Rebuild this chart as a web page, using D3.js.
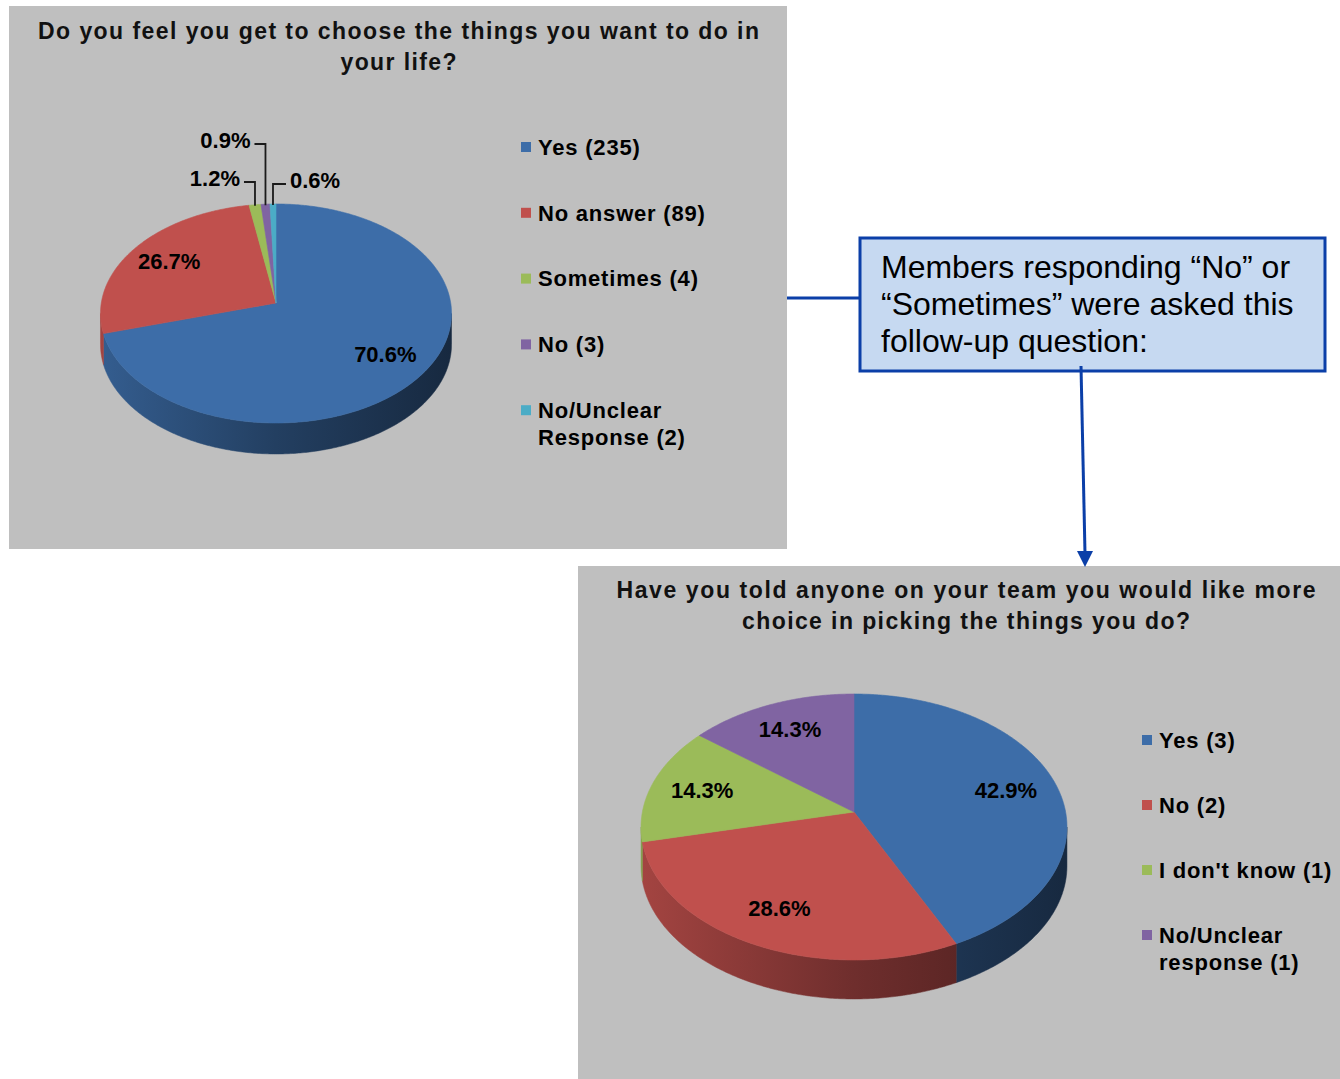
<!DOCTYPE html>
<html><head><meta charset="utf-8">
<script src="https://cdn.jsdelivr.net/npm/d3@7"></script>
<style>body{margin:0;background:#fff;font-family:"Liberation Sans",Arial,sans-serif;}</style>
</head><body>
<script>
// ---------- data ----------
const pie1Title = ["Do you feel you get to choose the things you want to do in", "your life?"];
const pie1Categories = ["Yes", "No answer", "Sometimes", "No", "No/Unclear Response"];
const pie1Values = [235, 89, 4, 3, 2];
const pie2Title = ["Have you told anyone on your team  you would like more", "choice in picking the things you do?"];
const pie2Categories = ["Yes", "No", "I don't know", "No/Unclear response"];
const pie2Values = [3, 2, 1, 1];
const calloutLines = ["Members responding \u201CNo\u201D or", "\u201CSometimes\u201D were asked this", "follow-up question:"];
const pie1Colors = ["#3D6DA8", "#C0504D", "#9BBB59", "#8064A2", "#4BACC6"];
const pie2Colors = ["#3D6DA8", "#C0504D", "#9BBB59", "#8064A2"];

// ---------- layout ----------
const W = 1340, H = 1079;
const svg = d3.select("body").append("svg").attr("width", W).attr("height", H);
const defs = svg.append("defs");
const panelFill = "#BFBFBF";
const blue = "#0B3FA8";
const fmt = d3.format(".1%");

function scaleColor(c, f) {
  const r = d3.rgb(c);
  return d3.rgb(r.r * f, r.g * f, r.b * f).formatHex();
}

function makeProj(cfg) {
  return (theta, f = 1, dy = 0) => {
    const s = Math.sin(theta), c = Math.cos(theta);
    const den = 1 + cfg.k * f * c;
    return [cfg.cx + cfg.Rx * f * s / den, cfg.cy - cfg.Ry * f * c / den + dy];
  };
}

function drawPie(cfg, vals, colors, leaders) {
  const g = svg.append("g");
  const proj = makeProj(cfg);
  const arcs = d3.pie().sort(null).value(d => d)(vals);
  const total = d3.sum(vals);
  const line = d3.line();
  // gradients for the side walls
  colors.forEach((c, i) => {
    const gr = defs.append("linearGradient").attr("id", `g${cfg.id}_${i}`)
      .attr("gradientUnits", "userSpaceOnUse")
      .attr("x1", cfg.cx - cfg.Rx).attr("x2", cfg.cx + cfg.Rx).attr("y1", 0).attr("y2", 0);
    gr.append("stop").attr("offset", 0).attr("stop-color", scaleColor(c, 0.85));
    gr.append("stop").attr("offset", 0.5).attr("stop-color", scaleColor(c, 0.58));
    gr.append("stop").attr("offset", 1).attr("stop-color", scaleColor(c, 0.38));
  });
  const fA = Math.PI / 2 + Math.asin(cfg.k), fB = 3 * Math.PI / 2 - Math.asin(cfg.k);
  arcs.forEach((a, i) => {
    const a0 = Math.max(a.startAngle, fA), a1 = Math.min(a.endAngle, fB);
    if (a1 <= a0) return;
    const n = Math.max(2, Math.ceil((a1 - a0) / 0.01));
    const top = d3.range(n + 1).map(j => proj(a0 + (a1 - a0) * j / n));
    const bot = top.slice().reverse().map(p => [p[0], p[1] + cfg.depth]);
    g.append("path").attr("d", line(top.concat(bot)) + "Z")
      .attr("fill", `url(#g${cfg.id}_${i})`).attr("stroke", `url(#g${cfg.id}_${i})`).attr("stroke-width", 0.5);
  });
  arcs.forEach((a, i) => {
    const n = Math.max(2, Math.ceil((a.endAngle - a.startAngle) / 0.01));
    const pts = [[cfg.cx, cfg.cy]].concat(d3.range(n + 1).map(j => proj(a.startAngle + (a.endAngle - a.startAngle) * j / n)));
    g.append("path").attr("d", line(pts) + "Z").attr("fill", colors[i])
      .attr("stroke", colors[i]).attr("stroke-width", 0.6);
  });
  // labels
  arcs.forEach((a, i) => {
    const mid = (a.startAngle + a.endAngle) / 2;
    const txt = fmt(a.value / total);
    const L = leaders && leaders[i];
    if (L) {
      const p = proj(mid, 1, 1);
      const ex = p[0] + L.dx;
      g.append("path").attr("d", line([p, [p[0], L.elbowY], [ex, L.elbowY]]))
        .attr("fill", "none").attr("stroke", "#1a1a1a").attr("stroke-width", 1.8);
      g.append("text").attr("x", ex + (L.dx < 0 ? -4 : 4)).attr("y", L.elbowY - 4).attr("dy", "0.35em")
        .attr("text-anchor", L.dx < 0 ? "end" : "start")
        .attr("font-size", 22).attr("font-weight", "bold").attr("fill", "#000").text(txt);
    } else {
      const p = proj(mid, 0.75);
      g.append("text").attr("x", p[0]).attr("y", p[1]).attr("dy", "0.35em")
        .attr("text-anchor", "middle")
        .attr("font-size", 22).attr("font-weight", "bold").attr("fill", "#000").text(txt);
    }
  });
}

function drawTitle(lines, cx, y0, widths) {
  lines.forEach((t, i) => {
    svg.append("text").attr("x", cx).attr("y", y0 + i * 31).attr("text-anchor", "middle")
      .attr("font-size", 23).attr("font-weight", "bold").attr("fill", "#111")
      .attr("textLength", widths[i]).attr("lengthAdjust", "spacing").text(t);
  });
}

function drawLegend(cats, vals, colors, x, y0, step) {
  const g = svg.append("g");
  cats.forEach((c, i) => {
    const y = y0 + i * step;
    g.append("rect").attr("x", x).attr("y", y - 5).attr("width", 10).attr("height", 10).attr("fill", colors[i]);
    const label = `${c} (${vals[i]})`;
    const words = label.split(" ");
    const lines = [];
    let cur = "";
    const probe = g.append("text").attr("font-size", 22).attr("font-weight", "bold").attr("letter-spacing", "0.8px");
    words.forEach(w => {
      const test = cur ? cur + " " + w : w;
      probe.text(test);
      if (cur && probe.node().getComputedTextLength() > 190) { lines.push(cur); cur = w; }
      else cur = test;
    });
    lines.push(cur);
    probe.remove();
    lines.forEach((l, j) => {
      g.append("text").attr("x", x + 17).attr("y", y + j * 27).attr("dy", "0.35em")
        .attr("font-size", 22).attr("font-weight", "bold").attr("letter-spacing", "0.8px")
        .attr("fill", "#000").text(l);
    });
  });
}

// panels
svg.append("rect").attr("x", 9).attr("y", 6).attr("width", 778).attr("height", 543).attr("fill", panelFill);
svg.append("rect").attr("x", 578).attr("y", 566).attr("width", 762).attr("height", 513).attr("fill", panelFill);

// chart 1
drawTitle(pie1Title, 398.5, 39, [721, 116]);
drawPie({id: 1, cx: 276, cy: 303, Rx: 174.7, Ry: 108.5, k: 0.0958, depth: 31}, pie1Values, pie1Colors,
  {2: {elbowY: 182, dx: -11}, 3: {elbowY: 144, dx: -11}, 4: {elbowY: 184, dx: 13}});
drawLegend(pie1Categories, pie1Values, pie1Colors, 521, 147, 65.8);

// chart 2
drawTitle(pie2Title, 966, 598, [699, 448]);
drawPie({id: 2, cx: 854, cy: 812, Rx: 211.6, Ry: 131.3, k: 0.1127, depth: 39}, pie2Values, pie2Colors, null);
drawLegend(pie2Categories, pie2Values, pie2Colors, 1142, 740, 65);

// connector + callout
svg.append("line").attr("x1", 787).attr("y1", 298).attr("x2", 859).attr("y2", 298)
  .attr("stroke", blue).attr("stroke-width", 3);
svg.append("rect").attr("x", 860).attr("y", 238).attr("width", 465).attr("height", 133)
  .attr("fill", "#C6D9F1").attr("stroke", blue).attr("stroke-width", 3);
calloutLines.forEach((t, i) => {
  svg.append("text").attr("x", 881).attr("y", 278 + i * 37).attr("font-size", 32)
    .attr("fill", "#000").text(t);
});
svg.append("line").attr("x1", 1081).attr("y1", 366).attr("x2", 1085).attr("y2", 553)
  .attr("stroke", blue).attr("stroke-width", 3);
svg.append("path").attr("d", d3.line()([[1077, 551], [1093, 551], [1085, 567]]) + "Z").attr("fill", blue);
</script>
</body></html>
